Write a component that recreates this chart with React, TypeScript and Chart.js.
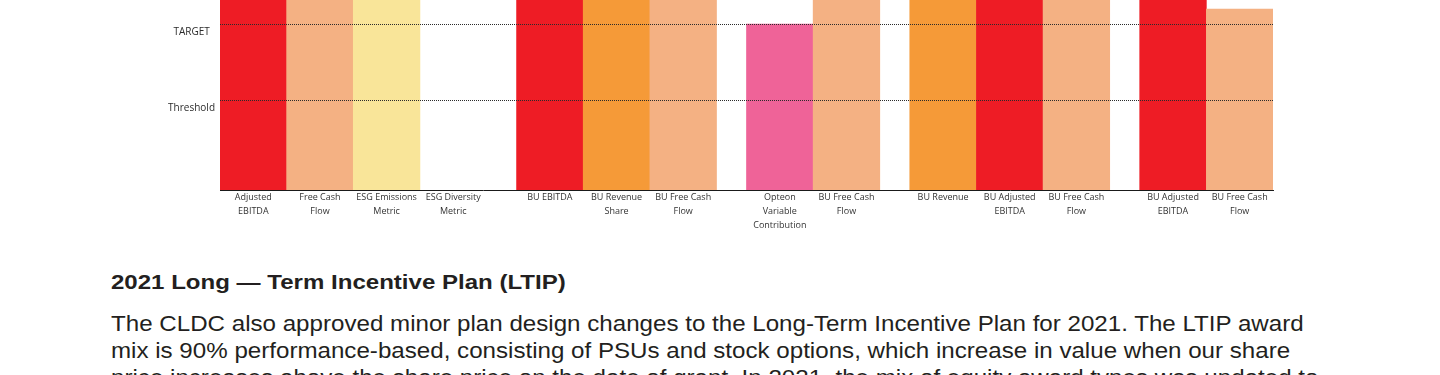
import React, { useEffect, useRef } from "react";
import { Chart, registerables } from "chart.js";

Chart.register(...registerables);

// ---- Data ----
const categories: string[][] = [
  ["Adjusted", "EBITDA"],
  ["Free Cash", "Flow"],
  ["ESG Emissions", "Metric"],
  ["ESG Diversity", "Metric"],
  ["BU EBITDA"],
  ["BU Revenue", "Share"],
  ["BU Free Cash", "Flow"],
  ["Opteon", "Variable", "Contribution"],
  ["BU Free Cash", "Flow"],
  ["BU Revenue"],
  ["BU Adjusted", "EBITDA"],
  ["BU Free Cash", "Flow"],
  ["BU Adjusted", "EBITDA"],
  ["BU Free Cash", "Flow"],
];
const groupIndex = [0, 0, 0, 0, 1, 1, 1, 2, 2, 3, 3, 3, 4, 4];
const values: (number | null)[] = [150, 150, 150, null, 150, 150, 150, 100, 150, 150, 150, 150, 150, 109];
const barColors = [
  "#EE1C25", "#F4B183", "#F9E599", "#FFFFFF",
  "#EE1C25", "#F59A38", "#F4B183",
  "#EF6398", "#F4B183",
  "#F59A38", "#EE1C25", "#F4B183",
  "#EE1C25", "#F4B183",
];
const yTickValues = [54, 100];
const yTickLabels = ["Threshold", "TARGET"];
const yMax = 114.46;

const heading = "2021 Long \u2014 Term Incentive Plan (LTIP)";
const paragraphLines = [
  "The CLDC also approved minor plan design changes to the Long-Term Incentive Plan for 2021. The LTIP award",
  "mix is 90% performance-based, consisting of PSUs and stock options, which increase in value when our share",
  "price increases above the share price on the date of grant. In 2021, the mix of equity award types was updated to",
];

const GROUP_GAP = 0.45;

function BarChart() {
  const ref = useRef<HTMLCanvasElement | null>(null);
  useEffect(() => {
    if (!ref.current) return;
    const positions = categories.map((_, i) => i + groupIndex[i] * GROUP_GAP);
    const chart = new Chart(ref.current, {
      type: "bar",
      data: {
        datasets: [
          {
            data: positions.map((x, i) => ({ x, y: values[i] })) as any,
            backgroundColor: barColors,
            borderWidth: 0,
            barPercentage: 1,
            categoryPercentage: 1,
            clip: 0 as any,
          },
        ],
      },
      options: {
        animation: false,
        responsive: false,
        layout: { padding: { left: 0, right: 167, top: 0, bottom: 0 } },
        plugins: { legend: { display: false }, tooltip: { enabled: false } },
        scales: {
          x: {
            type: "linear",
            offset: false,
            min: positions[0] - 0.5,
            max: positions[positions.length - 1] + 0.5,
            afterBuildTicks: (scale: any) => {
              scale.ticks = positions.map((v) => ({ value: v }));
            },
            afterFit: (scale: any) => {
              scale.height = 50;
              scale.paddingLeft = 0;
              scale.paddingRight = 0;
            },
            grid: { display: false, drawTicks: false, offset: false },
            border: { display: true, color: "#1a1a1a", width: 1, z: 1 },
            ticks: {
              autoSkip: false,
              maxRotation: 0,
              minRotation: 0,
              padding: 1,
              color: "#333333",
              font: { family: "'Open Sans', sans-serif", size: 9, lineHeight: "13.7px" as any },
              callback: (_v: any, index: number) => categories[index],
            },
          },
          y: {
            type: "linear",
            min: 0,
            max: yMax,
            afterBuildTicks: (scale: any) => {
              scale.ticks = yTickValues.map((v) => ({ value: v }));
            },
            afterFit: (scale: any) => {
              scale.width = 220;
              scale.paddingTop = 0;
              scale.paddingBottom = 0;
            },
            grid: { display: true, drawTicks: false, color: "#2b2b2b", lineWidth: 1, z: 1 },
            border: { display: false, dash: [1, 1] },
            ticks: {
              padding: 5,
              crossAlign: "center",
              labelOffset: 8,
              color: "#2b2b2b",
              font: { family: "'Open Sans', sans-serif", size: 10 },
              callback: (_v: any, index: number) => yTickLabels[index],
            },
          },
        },
      },
    });
    return () => chart.destroy();
  }, []);
  return <canvas ref={ref} width={1440} height={240} style={{ display: "block", width: 1440, height: 240 }} />;
}

export default function App() {
  return (
    <div
      style={{
        position: "absolute",
        left: 0,
        top: 0,
        width: 1440,
        height: 375,
        overflow: "hidden",
        background: "#ffffff",
      }}
    >
      <BarChart />
      <div
        style={{
          position: "absolute",
          left: 111,
          top: 269,
          fontFamily: "'Liberation Sans', Arial, sans-serif",
          fontWeight: 700,
          fontSize: 21,
          lineHeight: "25px",
          color: "#231f20",
          whiteSpace: "nowrap",
          transform: "scaleX(1.145)",
          transformOrigin: "left top",
        }}
      >
        {heading}
      </div>
      <div
        style={{
          position: "absolute",
          left: 111,
          top: 309.6,
          fontFamily: "'Liberation Sans', Arial, sans-serif",
          fontSize: 22,
          lineHeight: "27px",
          color: "#231f20",
          whiteSpace: "nowrap",
          transform: "scaleX(1.097)",
          transformOrigin: "left top",
        }}
      >
        {paragraphLines.map((line, i) => (
          <div key={i}>{line}</div>
        ))}
      </div>
    </div>
  );
}
